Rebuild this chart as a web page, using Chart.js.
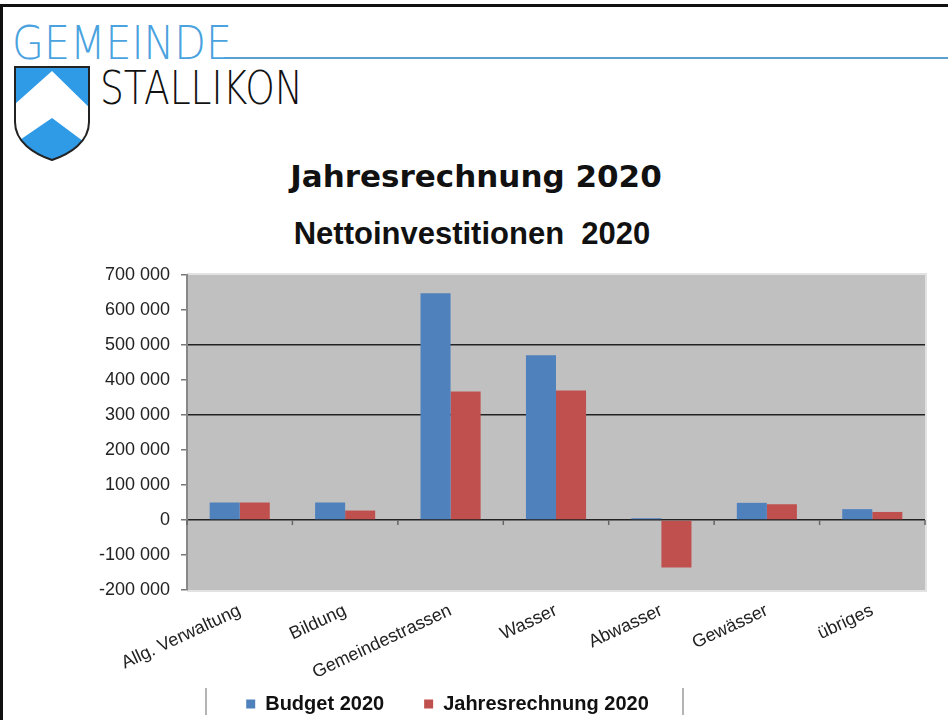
<!DOCTYPE html>
<html>
<head>
<meta charset="utf-8">
<script src="https://cdn.jsdelivr.net/npm/chart.js@4.4.0/dist/chart.umd.min.js"></script>
<style>
html,body{margin:0;padding:0;background:#fff;overflow:hidden;}
body{width:948px;height:720px;position:relative;}
#frame{position:absolute;left:0;top:4px;width:948px;height:716px;border-top:3px solid #111;border-left:3px solid #111;box-sizing:border-box;}
#logo{position:absolute;left:0;top:0;}
.title{position:absolute;width:948px;text-align:center;font-weight:bold;color:#111;white-space:pre;}
#t1{left:2px;top:161px;font-family:"DejaVu Sans";font-size:31px;line-height:31px;}
#t2{left:-2px;top:218px;font-family:"Liberation Sans",Arial;font-size:31px;line-height:31px;}
.sep{position:absolute;top:688px;width:2px;height:27px;background:#b4b4b4;}
#wrap{position:absolute;left:0;top:0;width:948px;height:748px;}
</style>
</head>
<body>
<div id="frame"></div>
<svg id="logo" width="948" height="170">
  <line x1="224" y1="58" x2="948" y2="58" stroke="#5b9fd3" stroke-width="2"/>
  <text x="12" y="59" font-family="'DejaVu Sans ExtraLight','DejaVu Sans'" font-weight="200" font-size="46" fill="#4aa3df" textLength="220" lengthAdjust="spacingAndGlyphs">GEMEINDE</text>
  <text x="100" y="104" font-family="'DejaVu Sans ExtraLight','DejaVu Sans'" font-weight="200" font-size="47" fill="#111" textLength="203" lengthAdjust="spacingAndGlyphs">STALLIKON</text>
  <clipPath id="sh"><path d="M15 67 H89 V122 C89 142 70 154 52 160 C34 154 15 142 15 122 Z"/></clipPath>
  <g clip-path="url(#sh)">
    <rect x="10" y="60" width="85" height="105" fill="#2f9ae6"/>
    <polygon points="52,71 95,113 95,150 52,118 5,150 5,113" fill="#fff"/>
  </g>
  <path d="M15 67 H89 V122 C89 142 70 154 52 160 C34 154 15 142 15 122 Z" fill="none" stroke="#222" stroke-width="2"/>
</svg>
<div class="title" id="t1">Jahresrechnung 2020</div>
<div class="title" id="t2">Nettoinvestitionen  2020</div>
<div class="sep" style="left:205px"></div>
<div class="sep" style="left:682px"></div>
<div id="wrap"><canvas id="c" width="948" height="748"></canvas></div>
<script>
// Nettoinvestitionen 2020 — Budget vs. Jahresrechnung
const categories = ['Allg. Verwaltung','Bildung','Gemeindestrassen','Wasser','Abwasser','Gewässer','übriges'];
const budget2020 = [50000, 50000, 648000, 471000, 5000, 49000, 31000];
const rechnung2020 = [50000, 27000, 367000, 370000, -136000, 45000, 23000];
const seriesNames = ['Budget 2020', 'Jahresrechnung 2020'];
const yMin = -200000, yMax = 700000, yStep = 100000;
const gridValues = [500000, 300000, 0];

function fmt(v){ return String(v).replace(/\B(?=(\d{3})+(?!\d))/g, ' '); }

const plotBg = {
  id: 'plotBg',
  beforeDraw(chart){
    const {ctx, chartArea:a} = chart;
    ctx.save();
    ctx.fillStyle = '#c0c0c0';
    ctx.fillRect(a.left, a.top, a.right - a.left, a.bottom - a.top);
    ctx.strokeStyle = '#e2e2e2';
    ctx.lineWidth = 2;
    ctx.beginPath();
    ctx.moveTo(a.left, a.top - 1);
    ctx.lineTo(a.right + 1, a.top - 1);
    ctx.lineTo(a.right + 1, a.bottom + 1);
    ctx.lineTo(a.left, a.bottom + 1);
    ctx.stroke();
    ctx.restore();
  },
  afterDatasetsDraw(chart){
    // small category ticks on the zero line
    const {ctx, scales:{x, y}} = chart;
    const y0 = y.getPixelForValue(0);
    const half = (x.getPixelForValue(1) - x.getPixelForValue(0)) / 2;
    ctx.save();
    ctx.strokeStyle = '#666';
    ctx.lineWidth = 1.5;
    for(let i = 0; i <= categories.length; i++){
      const px = x.getPixelForValue(i) - half;
      ctx.beginPath(); ctx.moveTo(px, y0); ctx.lineTo(px, y0 + 5); ctx.stroke();
    }
    ctx.restore();
  },
  afterLayout(chart){
    // legend sits a bit left of centre and overlaps the label band, like the original
    const lg = chart.legend;
    lg.left -= 15; lg.right -= 15;
    lg.top -= 24; lg.bottom -= 24;
  }
};

new Chart(document.getElementById('c'), {
  type: 'bar',
  data: {
    labels: categories,
    datasets: [
      { label: seriesNames[0], data: budget2020, backgroundColor: '#4f81bd' },
      { label: seriesNames[1], data: rechnung2020, backgroundColor: '#c0504d' }
    ]
  },
  options: {
    responsive: false,
    animation: false,
    categoryPercentage: 0.57,
    barPercentage: 1.0,
    layout: { padding: { top: 275, right: 23, bottom: 0, left: 0 } },
    plugins: {
      tooltip: { enabled: false },
      legend: {
        position: 'bottom',
        labels: {
          boxWidth: 9, boxHeight: 9, padding: 40, color: '#111',
          font: { family: '"Liberation Sans", Arial', size: 20, weight: 'bold' }
        }
      }
    },
    scales: {
      x: {
        grid: { display: false, drawTicks: false },
        border: { display: false },
        ticks: {
          color: '#222', minRotation: 25, maxRotation: 25, autoSkip: false, padding: 10,
          font: { family: '"Liberation Sans", Arial', size: 18 }
        },
        afterFit(s){ s.height = 88; }
      },
      y: {
        min: yMin, max: yMax,
        ticks: {
          stepSize: yStep, color: '#222', padding: 11,
          font: { family: '"Liberation Sans", Arial', size: 18 },
          callback: v => fmt(v)
        },
        grid: {
          color: c => gridValues.includes(c.tick.value) ? '#222' : 'rgba(0,0,0,0)',
          lineWidth: 1.5, tickColor: '#777', tickLength: 6
        },
        border: { display: true, color: '#888', width: 2 },
        afterFit(s){ s.width = 187; }
      }
    }
  },
  plugins: [plotBg]
});
</script>
</body>
</html>
